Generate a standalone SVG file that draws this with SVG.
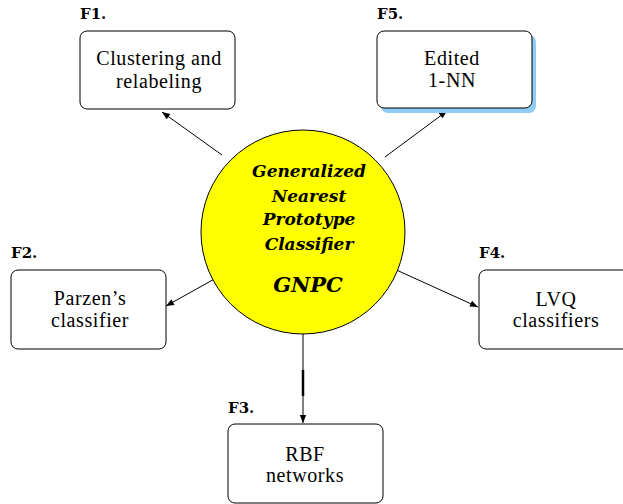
<svg xmlns="http://www.w3.org/2000/svg" width="623" height="504" viewBox="0 0 623 504">
<defs>
<marker id="ah" viewBox="0 0 10 10" refX="10" refY="5" markerWidth="10" markerHeight="8" markerUnits="userSpaceOnUse" orient="auto">
<path d="M0,1 L10,5 L0,9 z" fill="#000"/>
</marker>
<style>
.box{fill:#fff;stroke:#000;stroke-width:1}
.edge{stroke:#000;stroke-width:1;fill:none;marker-end:url(#ah)}
</style>
</defs>
<rect width="623" height="504" fill="#fff"/>
<g id="connectors">
<line class="edge" x1="222" y1="155" x2="162" y2="112"/>
<line class="edge" x1="385" y1="157" x2="447" y2="111"/>
<line class="edge" x1="218" y1="277" x2="166" y2="306"/>
<line class="edge" x1="392" y1="268" x2="478" y2="307"/>
<line class="edge" x1="303" y1="334" x2="303" y2="423"/>
<line x1="303" y1="370" x2="303" y2="396" stroke="#000" stroke-width="2.5"/>
</g>
<g id="center" font-family="DejaVu Serif" font-size="17" font-weight="bold" font-style="italic" text-anchor="middle">
<circle cx="303" cy="232" r="102" fill="#ffff00" stroke="#000" stroke-width="1"/>
<text x="309" y="177">Generalized</text>
<text x="309" y="202">Nearest</text>
<text x="309" y="225">Prototype</text>
<text x="309" y="250">Classifier</text>
<text x="308" y="292" font-size="21">GNPC</text>
</g>
<g id="F1">
<text x="80" y="19" font-family="DejaVu Serif" font-size="15" font-weight="bold">F1.</text>
<rect class="box" x="80" y="31" width="155" height="78" rx="7"/>
<text x="159" y="65" font-family="Liberation Serif" font-size="20" letter-spacing="0.6" text-anchor="middle">Clustering and</text>
<text x="159" y="88" font-family="Liberation Serif" font-size="20" letter-spacing="0.6" text-anchor="middle">relabeling</text>
</g>
<g id="F5">
<text x="377" y="19" font-family="DejaVu Serif" font-size="15" font-weight="bold">F5.</text>
<rect x="381" y="35" width="155" height="78" rx="7" fill="#8fcdf2"/>
<rect class="box" x="377" y="31" width="155" height="77" rx="7"/>
<text x="452" y="65" font-family="Liberation Serif" font-size="20" letter-spacing="0.6" text-anchor="middle">Edited</text>
<text x="452" y="87" font-family="Liberation Serif" font-size="20" letter-spacing="0.6" text-anchor="middle">1-NN</text>
</g>
<g id="F2">
<text x="11" y="258" font-family="DejaVu Serif" font-size="15" font-weight="bold">F2.</text>
<rect class="box" x="11" y="270" width="155" height="79" rx="7"/>
<text x="90" y="305" font-family="Liberation Serif" font-size="20" letter-spacing="0.6" text-anchor="middle">Parzen’s</text>
<text x="90" y="327" font-family="Liberation Serif" font-size="20" letter-spacing="0.6" text-anchor="middle">classifier</text>
</g>
<g id="F4">
<text x="479" y="258" font-family="DejaVu Serif" font-size="15" font-weight="bold">F4.</text>
<rect class="box" x="479" y="270" width="155" height="79" rx="7"/>
<text x="556" y="306" font-family="Liberation Serif" font-size="20" letter-spacing="0.6" text-anchor="middle">LVQ</text>
<text x="556" y="327" font-family="Liberation Serif" font-size="20" letter-spacing="0.6" text-anchor="middle">classifiers</text>
</g>
<g id="F3">
<text x="228" y="413" font-family="DejaVu Serif" font-size="15" font-weight="bold">F3.</text>
<rect class="box" x="228" y="424" width="155" height="79" rx="7"/>
<text x="305" y="461" font-family="Liberation Serif" font-size="20" letter-spacing="0.6" text-anchor="middle">RBF</text>
<text x="305" y="482" font-family="Liberation Serif" font-size="20" letter-spacing="0.6" text-anchor="middle">networks</text>
</g>
</svg>
